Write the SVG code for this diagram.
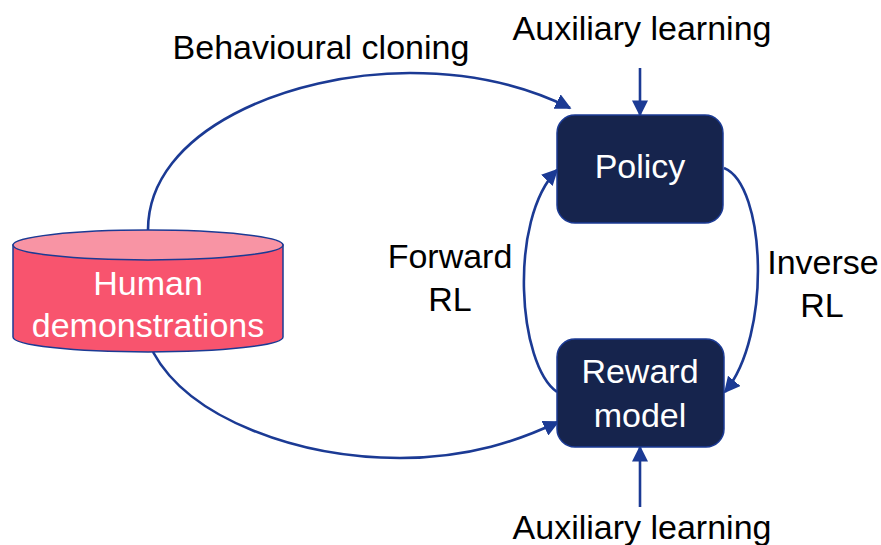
<svg xmlns="http://www.w3.org/2000/svg" width="881" height="545" viewBox="0 0 881 545">
<style>
.lbl{font-family:"Liberation Sans",Arial,sans-serif;font-size:34px;fill:#000;text-anchor:middle}
.wt{font-family:"Liberation Sans",Arial,sans-serif;font-size:34px;fill:#fff;text-anchor:middle}
.box{fill:#16244D;stroke:#1B3A94;stroke-width:1.5}
.edge{fill:none;stroke:#1B3A94;stroke-width:2.6;marker-end:url(#ah)}
</style>
<defs>
<marker id="ah" viewBox="0 0 10 10" refX="9" refY="5" markerWidth="6.2" markerHeight="6.2" orient="auto" markerUnits="strokeWidth">
<path d="M0,0 L10,5 L0,10 z" fill="#1B3A94"/>
</marker>
</defs>
<rect width="881" height="545" fill="#fff"/>
<g id="connectors">
<path class="edge" d="M148,230 C148,130 290,73 410,73 C480,73 530,88 570,108"/>
<path class="edge" d="M153,352 C190,420 300,458 400,458 C470,458 520,440 558,422"/>
<path class="edge" d="M557,392 C518,365 508,220 557,170"/>
<path class="edge" d="M724,168 C766,185 772,335 725,392"/>
<path class="edge" d="M640,68 L640,115"/>
<path class="edge" d="M640,507 L640,447"/>
</g>
<g id="human">
<path d="M13,245 L13,337 A135,15 0 0 0 283,337 L283,245 Z" fill="#F8546E" stroke="#1B3A94" stroke-width="1.5"/>
<ellipse cx="148" cy="245" rx="135" ry="15" fill="#F894A4" stroke="#1B3A94" stroke-width="1.5"/>
<text class="wt" x="148" y="295">Human</text>
<text class="wt" x="148" y="337">demonstrations</text>
</g>
<g id="policy">
<rect class="box" x="557" y="115" width="166" height="108" rx="18"/>
<text class="wt" x="640" y="178">Policy</text>
</g>
<g id="reward">
<rect class="box" x="557" y="339" width="167" height="108" rx="18"/>
<text class="wt" x="640" y="383">Reward</text>
<text class="wt" x="640" y="427">model</text>
</g>
<g id="labels">
<text class="lbl" x="321" y="59">Behavioural cloning</text>
<text class="lbl" x="642" y="40">Auxiliary learning</text>
<text class="lbl" x="642" y="539">Auxiliary learning</text>
<text class="lbl" x="450" y="268">Forward</text>
<text class="lbl" x="450" y="311">RL</text>
<text class="lbl" x="823" y="274">Inverse</text>
<text class="lbl" x="822" y="317">RL</text>
</g>
</svg>
